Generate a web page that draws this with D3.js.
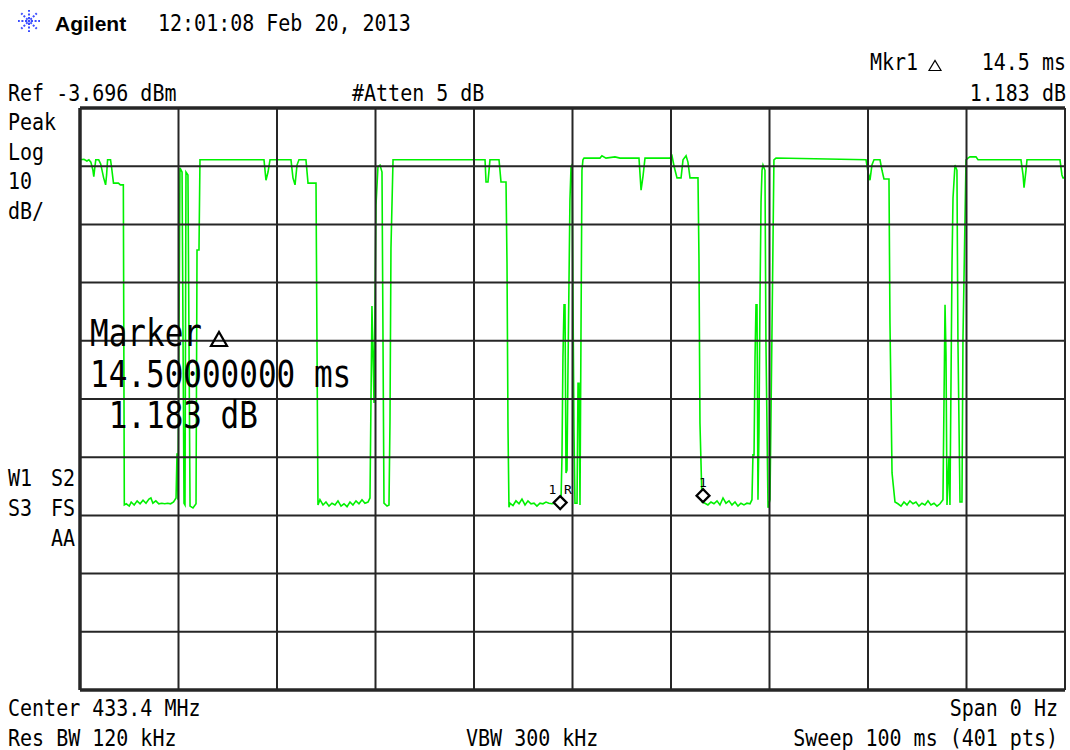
<!DOCTYPE html>
<html>
<head>
<meta charset="utf-8">
<script src="https://cdn.jsdelivr.net/npm/d3@7"></script>
<style>
    body { margin: 0; background: #fff; }
    svg { display: block; }
    text { font-family: "DejaVu Sans Mono", monospace; fill: #000; }
</style>
</head>
<body>
<svg id="chart" width="1070" height="750"></svg>
<script>
// sweep settings
const sweepMs = [0, 100];
const refLevel = -3.696;
const dbPerDiv = 10;
const divisions = d3.range(0, 11);

// trace vertices [time ms, level dBm]
const trace = [
    [0, -12.6], [0.4, -12.5], [0.7, -12.8], [0.9, -12.6], [1.1, -13.0], [1.3, -14.3], [1.4, -15.5], [1.5, -14.0],
    [1.6, -12.6], [1.9, -12.6], [2.1, -13.3], [2.4, -15.7], [2.6, -16.9], [2.7, -15.2], [2.8, -12.6], [3.1, -12.6],
    [3.2, -13.8], [3.4, -16.6], [3.9, -16.6], [4.1, -16.9], [4.4, -16.9], [4.5, -71.9],
    [4.7, -71.7], [5.0, -72.1], [5.2, -71.4], [5.5, -71.9], [5.8, -71.2], [6.1, -71.7], [6.4, -71.1], [6.7, -71.6],
    [7.0, -70.9], [7.2, -70.7], [7.4, -71.6], [7.7, -71.2], [8.0, -71.7], [8.3, -71.6], [8.6, -71.7], [8.9, -71.6],
    [9.2, -71.7], [9.5, -71.4], [9.75, -70.7],
    [9.85, -63.0], [9.95, -71.0], [10.15, -14.0], [10.36, -14.7], [10.56, -71.6], [10.66, -71.9], [10.76, -14.7],
    [10.96, -15.2], [11.17, -72.1], [11.47, -72.4], [11.78, -71.7], [11.88, -28.1], [12.08, -28.1], [12.18, -12.6],
    [18.68, -12.6], [18.88, -16.1], [19.09, -14.7], [19.29, -12.6], [21.42, -12.6], [21.62, -15.7], [21.83, -16.9],
    [22.03, -13.5], [22.23, -12.6], [22.94, -12.6], [23.15, -16.6], [23.96, -16.6], [24.16, -71.9],
    [24.36, -71.0], [24.67, -71.9], [24.97, -71.4], [25.28, -72.1], [25.58, -71.6], [25.89, -71.9], [26.19, -71.2],
    [26.5, -72.1], [26.8, -71.7], [27.11, -72.2], [27.41, -71.4], [27.71, -71.9], [28.02, -71.2], [28.32, -71.7],
    [28.63, -71.0], [28.93, -71.6], [29.24, -71.4], [29.44, -70.7],
    [29.64, -37.7], [29.85, -54.4], [30.05, -20.4], [30.25, -13.8], [30.46, -13.5], [30.66, -14.7], [30.86, -71.6],
    [31.17, -72.1], [31.37, -71.9], [31.47, -57.6], [31.57, -27.8], [31.78, -12.6],
    [41.12, -12.6], [41.22, -16.4], [41.42, -16.4], [41.62, -12.6], [42.54, -12.6], [42.74, -16.4], [43.25, -16.4],
    [43.35, -30.3], [43.45, -58.5], [43.55, -72.3],
    [43.65, -71.6], [43.96, -72.0], [44.26, -71.2], [44.57, -71.7], [44.87, -70.9], [45.18, -71.9], [45.48, -71.2],
    [45.79, -71.7], [46.09, -71.6], [46.39, -72.1], [46.7, -71.6], [47.0, -71.7], [47.31, -71.4], [47.61, -71.6],
    [47.92, -71.7], [48.22, -71.6], [48.53, -71.4], [48.83, -71.4],
    [48.93, -63.8], [49.03, -46.5], [49.14, -37.5], [49.24, -37.5], [49.34, -66.4], [49.44, -65.9], [49.54, -48.7],
    [49.74, -19.5], [49.85, -13.8], [49.95, -13.5], [50.05, -36.7], [50.15, -59.0], [50.25, -71.6], [50.46, -71.6],
    [50.56, -51.0], [50.66, -51.0], [50.76, -71.9], [50.86, -43.0], [50.96, -14.4], [51.06, -12.6], [51.17, -12.3],
    [52.79, -12.3], [52.99, -11.9], [53.4, -12.3], [54.31, -12.1], [54.82, -12.3], [56.75, -12.3], [56.96, -17.8],
    [57.16, -15.4], [57.36, -12.3], [59.9, -12.3], [60.1, -11.9], [60.31, -13.7], [60.61, -15.7], [61.02, -15.7],
    [61.22, -12.6], [61.53, -11.9], [61.72, -13.0], [61.93, -15.7], [62.74, -15.7], [62.84, -29.5], [62.94, -57.8],
    [63.15, -71.4],
    [63.45, -71.6], [63.75, -71.9], [64.06, -71.4], [64.36, -71.7], [64.67, -71.2], [64.97, -71.9], [65.28, -70.7],
    [65.58, -71.6], [65.89, -71.2], [66.19, -71.9], [66.5, -71.4], [66.8, -72.1], [67.1, -71.6], [67.41, -71.9],
    [67.71, -71.6], [68.02, -71.7], [68.22, -71.0],
    [68.32, -63.3], [68.43, -63.3], [68.53, -46.5], [68.63, -37.5], [68.73, -37.5], [68.83, -71.0], [68.93, -59.5],
    [69.03, -37.2], [69.14, -19.9], [69.24, -14.4], [69.34, -13.5], [69.54, -14.4], [69.64, -44.1], [69.85, -72.4],
    [70.05, -71.0], [70.25, -42.4], [70.45, -12.6], [70.66, -12.3],
    [79.8, -12.6], [80.0, -14.7], [80.2, -16.1], [80.4, -13.5], [80.61, -12.6], [81.22, -12.6], [81.42, -14.4],
    [81.62, -15.9], [82.13, -15.9], [82.23, -40.6], [82.44, -66.4], [82.74, -71.4],
    [83.04, -71.7], [83.35, -72.1], [83.65, -71.4], [83.96, -71.9], [84.26, -71.2], [84.57, -71.7], [84.87, -71.4],
    [85.17, -72.1], [85.48, -71.6], [85.78, -71.9], [86.09, -71.2], [86.39, -71.9], [86.7, -71.6], [87.0, -72.1],
    [87.31, -71.7], [87.61, -71.0],
    [87.82, -37.5], [87.92, -46.1], [88.02, -71.9], [88.22, -63.7], [88.32, -71.9], [88.53, -30.3], [88.63, -19.2],
    [88.83, -13.5], [89.03, -14.4], [89.13, -43.6], [89.34, -71.4], [89.54, -71.4], [89.64, -43.6], [89.95, -12.6],
    [90.15, -12.3],
    [90.35, -12.1], [90.96, -12.1], [91.17, -12.6], [95.53, -12.6], [95.74, -15.2], [95.84, -17.4], [96.04, -14.4],
    [96.14, -12.6], [99.49, -12.6], [99.69, -15.2], [99.8, -15.7], [100, -15.7]
];

// markers
const markerLabels = ["1R", "1"];
const markerTimes = [48.75, 63.25];
const markerLevels = [-71.5, -70.3];

// annotation texts
const leftLabels = ["Peak", "Log", "10", "dB/"];
const markerReadout = ["14.50000000 ms", " 1.183 dB"];

const svg = d3.select("#chart");

const x = d3.scaleLinear().domain(sweepMs).range([80, 1065]);
const y = d3.scaleLinear()
    .domain([refLevel, refLevel - dbPerDiv * 10])
    .range([108, 690]);

function label(px, py, str, size, anchor, sy) {
    return svg.append("text")
        .attr("transform", `translate(${px},${py}) scale(1,${sy || 1.12})`)
        .attr("font-size", size)
        .attr("text-anchor", anchor || "start")
        .attr("xml:space", "preserve")
        .style("white-space", "pre")
        .text(str);
}

// small outlined delta, as the analyzer draws it
function delta(px, py, w, h, sw) {
    svg.append("path")
        .attr("d", `M${px},${py}L${px + w},${py}L${px + w / 2},${py - h}Z`)
        .attr("fill", "none")
        .attr("stroke", "#000")
        .attr("stroke-width", sw)
        .attr("stroke-linejoin", "miter");
}

// logo
const logo = svg.append("g").attr("transform", "translate(29,21)");
d3.range(8).forEach(i => {
    const a = i * Math.PI / 4;
    logo.append("line")
        .attr("x1", Math.cos(a) * 2).attr("y1", Math.sin(a) * 2)
        .attr("x2", Math.cos(a) * 11).attr("y2", Math.sin(a) * 11)
        .attr("stroke", "#3b4dff")
        .attr("stroke-width", 2)
        .attr("stroke-dasharray", "2,1.6");
});
logo.append("circle").attr("r", 1.5).attr("fill", "#3b4dff");

svg.append("text")
    .attr("x", 55).attr("y", 31)
    .attr("font-weight", "bold")
    .attr("font-size", 21)
    .style("font-family", "'Liberation Sans', Arial, sans-serif")
    .text("Agilent");

label(158, 31, "12:01:08 Feb 20, 2013", 20);
label(870, 70, "Mkr1", 20);
delta(929, 70.5, 12, 10, 1.2);
label(1066, 70, "14.5 ms", 20, "end");
label(1066, 101, "1.183 dB", 20, "end");
label(8, 101, "Ref -3.696 dBm", 20);
label(352, 101, "#Atten 5 dB", 20);

leftLabels.forEach((s, i) => label(8, 130 + i * 29.5, s, 20));
label(8, 486, "W1", 20);
label(75, 486, "S2", 20, "end");
label(8, 516, "S3", 20);
label(75, 516, "FS", 20, "end");
label(75, 546, "AA", 20, "end");

label(8, 716, "Center 433.4 MHz", 20);
label(8, 746, "Res BW 120 kHz", 20);
label(466, 746, "VBW 300 kHz", 20);
label(1058, 716, "Span 0 Hz", 20, "end");
label(1058, 746, "Sweep 100 ms (401 pts)", 20, "end");

// trace
const line = d3.line()
    .x(d => x(d[0]))
    .y(d => y(d[1]));

svg.append("path")
    .datum(trace)
    .attr("fill", "none")
    .attr("stroke", "#00f000")
    .attr("stroke-width", 1.6)
    .attr("stroke-linejoin", "miter")
    .attr("d", line);

// graticule on top of trace
const grid = svg.append("g");
divisions.forEach(i => {
    const gx = x(sweepMs[0] + i * (sweepMs[1] - sweepMs[0]) / 10);
    grid.append("line")
        .attr("x1", gx).attr("x2", gx)
        .attr("y1", y.range()[0]).attr("y2", y.range()[1])
        .attr("stroke", "#262626")
        .attr("stroke-width", (i === 0) ? 3.5 : 2);
    const gy = y(refLevel - i * dbPerDiv);
    grid.append("line")
        .attr("x1", x.range()[0]).attr("x2", x.range()[1])
        .attr("y1", gy).attr("y2", gy)
        .attr("stroke", "#262626")
        .attr("stroke-width", (i === 0 || i === 10) ? 3.5 : 2);
});

// markers
markerTimes.forEach((t, i) => {
    const mx = x(t), my = y(markerLevels[i]);
    svg.append("path")
        .attr("d", `M${mx},${my - 6.5}L${mx + 6.5},${my}L${mx},${my + 6.5}L${mx - 6.5},${my}Z`)
        .attr("fill", "#fff")
        .attr("stroke", "#000")
        .attr("stroke-width", 2.2);
    svg.append("text")
        .attr("x", mx).attr("y", my - 9)
        .attr("text-anchor", "middle")
        .attr("font-size", 13)
        .attr("xml:space", "preserve")
        .style("white-space", "pre")
        .text(markerLabels[i] === "1R" ? "1 R" : markerLabels[i]);
});

// marker readout
label(90, 346, "Marker", 31, "start", 1.2);
delta(211, 346, 16, 14, 2.2);
label(90, 387, markerReadout[0], 31, "start", 1.2);
label(90, 428, markerReadout[1], 31, "start", 1.2);
</script>
</body>
</html>
